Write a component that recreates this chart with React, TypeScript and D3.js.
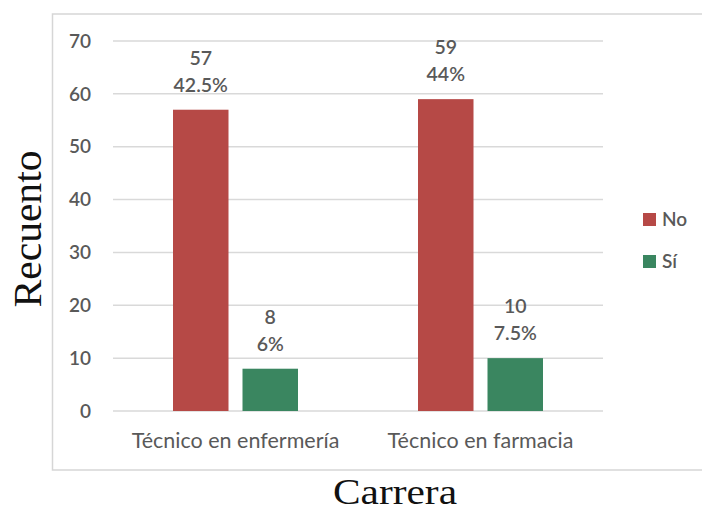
import React from "react";
import * as d3 from "d3";

const categories = ["Técnico en enfermería", "Técnico en farmacia"];
const seriesNames = ["No", "Sí"];
const seriesColors = ["#B64946", "#3A8660"];
const valuesNo = [57, 59];
const valuesSi = [8, 10];
const pctNo = ["42.5%", "44%"];
const pctSi = ["6%", "7.5%"];
const yTicks = [0, 10, 20, 30, 40, 50, 60, 70];

const W = 702;
const H = 511;

export default function App() {
  const x = d3.scaleBand<string>().domain(categories).range([113, 603]);
  const y = d3.scaleLinear().domain([0, 70]).range([411, 41]);
  const barW = 55.5;
  const innerGap = 14;
  const series = [
    { name: seriesNames[0], color: seriesColors[0], values: valuesNo, pct: pctNo },
    { name: seriesNames[1], color: seriesColors[1], values: valuesSi, pct: pctSi },
  ];
  const groupW = barW * 2 + innerGap;
  const font = "Lato, 'Open Sans', sans-serif";
  const gray = "#595959";

  return (
    <svg
      width={W}
      height={H}
      style={{ position: "absolute", left: 0, top: 0, background: "#fff" }}
    >
      <rect x={52.5} y={14} width={W} height={456} fill="none" stroke="#d6d6d6" strokeWidth={1.5} />
      {yTicks.map((t) => (
        <g key={t}>
          <line x1={113} x2={603} y1={y(t)} y2={y(t)} stroke="#d9d9d9" strokeWidth={1.5} />
          <text
            x={91}
            y={y(t)}
            dy="0.35em"
            textAnchor="end"
            fontFamily={font}
            fontSize={19}
            fontWeight={600}
            fill={gray}
          >
            {t}
          </text>
        </g>
      ))}
      {categories.map((c, i) => {
        const cx = (x(c) as number) + x.bandwidth() / 2;
        return (
          <g key={c}>
            {series.map((s, j) => {
              const bx = cx - groupW / 2 + j * (barW + innerGap);
              const v = s.values[i];
              const top = y(v);
              return (
                <g key={s.name}>
                  <rect x={bx} y={top} width={barW} height={y(0) - top} fill={s.color} />
                  <text
                    x={bx + barW / 2}
                    y={top - 52}
                    dy="0.35em"
                    textAnchor="middle"
                    fontFamily={font}
                    fontSize={19.5}
                    fontWeight={600}
                    fill={gray}
                  >
                    {v}
                  </text>
                  <text
                    x={bx + barW / 2}
                    y={top - 25}
                    dy="0.35em"
                    textAnchor="middle"
                    fontFamily={font}
                    fontSize={19.5}
                    fontWeight={600}
                    fill={gray}
                  >
                    {s.pct[i]}
                  </text>
                </g>
              );
            })}
            <text
              x={cx}
              y={440}
              dy="0.35em"
              textAnchor="middle"
              fontFamily={font}
              fontSize={21.5}
              fill={gray}
            >
              {c}
            </text>
          </g>
        );
      })}
      {series.map((s, j) => (
        <g key={s.name} transform={`translate(643, ${213 + j * 42})`}>
          <rect x={0} y={0} width={13} height={13} fill={s.color} />
          <text x={19} y={6.5} dy="0.35em" fontFamily={font} fontSize={19} fontWeight={600} fill={gray}>
            {s.name}
          </text>
        </g>
      ))}
      <text
        transform={`translate(41, 229) rotate(-90)`}
        textAnchor="middle"
        fontFamily="'Liberation Serif', 'DejaVu Serif', serif"
        fontSize={40}
        textLength={157}
        lengthAdjust="spacingAndGlyphs"
        fill="#111"
      >
        Recuento
      </text>
      <text
        x={395}
        y={504}
        textAnchor="middle"
        fontFamily="'Liberation Serif', 'DejaVu Serif', serif"
        fontSize={35}
        textLength={124}
        lengthAdjust="spacingAndGlyphs"
        fill="#111"
      >
        Carrera
      </text>
    </svg>
  );
}
